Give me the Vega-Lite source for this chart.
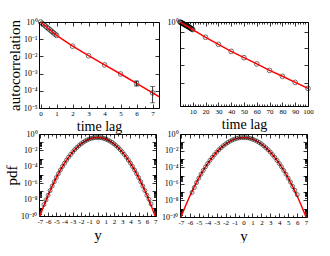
{
  "$schema": "https://vega.github.io/schema/vega-lite/v6.json",
  "background": "white",
  "padding": {"left": 4, "top": 18, "right": 0, "bottom": 0},
  "bounds": "flush",
  "columns": 2,
  "spacing": {"row": 26, "column": 21},
  "datasets": {
    "tl_pts": [{"x":0,"y":1},{"x":0.1,"y":0.835},{"x":0.2,"y":0.698},{"x":0.3,"y":0.583},{"x":0.4,"y":0.487},{"x":0.5,"y":0.407},{"x":0.6,"y":0.34},{"x":0.7,"y":0.284},{"x":0.8,"y":0.237},{"x":0.9,"y":0.198},{"x":1,"y":0.166},{"x":2,"y":0.039},{"x":3,"y":0.011},{"x":4,"y":0.0032},{"x":5,"y":0.00095},{"x":6,"y":0.00027},{"x":7,"y":0.000076}],
    "tl_line": [{"x":0,"y":1},{"x":0.5,"y":0.407},{"x":1,"y":0.166},{"x":2,"y":0.039},{"x":3,"y":0.011},{"x":4,"y":0.0032},{"x":5,"y":0.00095},{"x":6,"y":0.00027},{"x":7,"y":0.000076},{"x":7.5,"y":0.000041}],
    "tl_err": [{"x":6,"lo":0.00019,"hi":0.00037},{"x":7,"lo":0.00002,"hi":0.000175}],
    "tr_pts": [{"x":0,"y":1},{"x":0.5,"y":0.95},{"x":1,"y":0.91},{"x":1.5,"y":0.87},{"x":2,"y":0.83},{"x":2.5,"y":0.79},{"x":3,"y":0.75},{"x":3.5,"y":0.72},{"x":4,"y":0.68},{"x":4.5,"y":0.65},{"x":5,"y":0.62},{"x":5.5,"y":0.59},{"x":6,"y":0.56},{"x":6.5,"y":0.53},{"x":7,"y":0.5},{"x":7.5,"y":0.48},{"x":8,"y":0.45},{"x":8.5,"y":0.43},{"x":9,"y":0.4},{"x":9.5,"y":0.38},{"x":10,"y":0.36},{"x":20,"y":0.128},{"x":30,"y":0.05},{"x":40,"y":0.0195},{"x":50,"y":0.0083},{"x":60,"y":0.0036},{"x":70,"y":0.0015},{"x":80,"y":0.00068},{"x":90,"y":0.0003},{"x":100,"y":0.000135}],
    "tr_line": [{"x":0,"y":1},{"x":10,"y":0.36},{"x":20,"y":0.128},{"x":30,"y":0.05},{"x":40,"y":0.0195},{"x":50,"y":0.0083},{"x":60,"y":0.0036},{"x":70,"y":0.0015},{"x":80,"y":0.00068},{"x":90,"y":0.0003},{"x":100,"y":0.000135}],
    "b_line": [{"x":-7.2,"y":2.62e-11},{"x":-7,"y":9.46e-11},{"x":-6.5,"y":1.99e-9},{"x":-6,"y":3.34e-8},{"x":-5.5,"y":4.48e-7},{"x":-5,"y":4.79e-6},{"x":-4.5,"y":4.08e-5},{"x":-4,"y":2.78e-4},{"x":-3.5,"y":1.51e-3},{"x":-3,"y":6.55e-3},{"x":-2.5,"y":0.0226},{"x":-2,"y":0.0625},{"x":-1.5,"y":0.138},{"x":-1,"y":0.242},{"x":-0.5,"y":0.34},{"x":0,"y":0.38},{"x":0.5,"y":0.34},{"x":1,"y":0.242},{"x":1.5,"y":0.138},{"x":2,"y":0.0625},{"x":2.5,"y":0.0226},{"x":3,"y":6.55e-3},{"x":3.5,"y":1.51e-3},{"x":4,"y":2.78e-4},{"x":4.5,"y":4.08e-5},{"x":5,"y":4.79e-6},{"x":5.5,"y":4.48e-7},{"x":6,"y":3.34e-8},{"x":6.5,"y":1.99e-9},{"x":7,"y":9.46e-11},{"x":7.2,"y":2.62e-11}],
    "bl_pts": [{"x":-6.5,"y":2.5e-9},{"x":-6.25,"y":9e-9},{"x":-6,"y":3.34e-8},{"x":-5.75,"y":1.26e-7},{"x":-5.5,"y":4.48e-7},{"x":-5.25,"y":1.51e-6},{"x":-5,"y":4.79e-6},{"x":-4.75,"y":1.44e-5},{"x":-4.5,"y":4.08e-5},{"x":-4.25,"y":1.1e-4},{"x":-4,"y":2.78e-4},{"x":-3.75,"y":6.67e-4},{"x":-3.5,"y":1.51e-3},{"x":-3.25,"y":3.23e-3},{"x":-3,"y":6.55e-3},{"x":-2.75,"y":0.01253},{"x":-2.5,"y":0.0226},{"x":-2.25,"y":0.0387},{"x":-2,"y":0.0625},{"x":-1.75,"y":0.0955},{"x":-1.5,"y":0.138},{"x":-1.25,"y":0.188},{"x":-1,"y":0.242},{"x":-0.75,"y":0.295},{"x":-0.5,"y":0.34},{"x":-0.25,"y":0.37},{"x":0,"y":0.38},{"x":0.25,"y":0.37},{"x":0.5,"y":0.34},{"x":0.75,"y":0.295},{"x":1,"y":0.242},{"x":1.25,"y":0.188},{"x":1.5,"y":0.138},{"x":1.75,"y":0.0955},{"x":2,"y":0.0625},{"x":2.25,"y":0.0387},{"x":2.5,"y":0.0226},{"x":2.75,"y":0.01253},{"x":3,"y":6.55e-3},{"x":3.25,"y":3.23e-3},{"x":3.5,"y":1.51e-3},{"x":3.75,"y":6.67e-4},{"x":4,"y":2.78e-4},{"x":4.25,"y":1.1e-4},{"x":4.5,"y":4.08e-5},{"x":4.75,"y":1.44e-5},{"x":5,"y":4.79e-6},{"x":5.25,"y":1.51e-6},{"x":5.5,"y":4.48e-7},{"x":5.75,"y":1.26e-7},{"x":6,"y":3.34e-8},{"x":6.25,"y":1.1e-8},{"x":6.5,"y":3e-9}],
    "br_pts": [{"x":-5.75,"y":9e-8},{"x":-5.5,"y":3.5e-7},{"x":-5.25,"y":1.4e-6},{"x":-5,"y":4.79e-6},{"x":-4.75,"y":1.44e-5},{"x":-4.5,"y":4.08e-5},{"x":-4.25,"y":1.1e-4},{"x":-4,"y":2.78e-4},{"x":-3.75,"y":6.67e-4},{"x":-3.5,"y":1.51e-3},{"x":-3.25,"y":3.23e-3},{"x":-3,"y":6.55e-3},{"x":-2.75,"y":0.01253},{"x":-2.5,"y":0.0226},{"x":-2.25,"y":0.0387},{"x":-2,"y":0.0625},{"x":-1.75,"y":0.0955},{"x":-1.5,"y":0.138},{"x":-1.25,"y":0.188},{"x":-1,"y":0.242},{"x":-0.75,"y":0.295},{"x":-0.5,"y":0.34},{"x":-0.25,"y":0.37},{"x":0,"y":0.38},{"x":0.25,"y":0.37},{"x":0.5,"y":0.34},{"x":0.75,"y":0.295},{"x":1,"y":0.242},{"x":1.25,"y":0.188},{"x":1.5,"y":0.138},{"x":1.75,"y":0.0955},{"x":2,"y":0.0625},{"x":2.25,"y":0.0387},{"x":2.5,"y":0.0226},{"x":2.75,"y":0.01253},{"x":3,"y":6.55e-3},{"x":3.25,"y":3.23e-3},{"x":3.5,"y":1.51e-3},{"x":3.75,"y":6.67e-4},{"x":4,"y":2.78e-4},{"x":4.25,"y":1.1e-4},{"x":4.5,"y":4.08e-5},{"x":4.75,"y":1.44e-5},{"x":5,"y":4.79e-6},{"x":5.25,"y":1.6e-6},{"x":5.5,"y":4.8e-7},{"x":5.75,"y":1.6e-7},{"x":6,"y":5e-8}]
  },
  "concat": [
    {
      "width": 120, "height": 86,
      "layer": [
        {
          "data": {"name": "tl_pts"},
          "mark": {"type": "point", "shape": "circle", "filled": false, "color": "black", "size": 22, "strokeWidth": 0.8, "clip": false},
          "encoding": {
            "x": {"field": "x", "type": "quantitative", "scale": {"domain": [-0.1, 7.4], "nice": false, "zero": false},
              "axis": {"orient": "bottom", "values": [0,0.5,1,1.5,2,2.5,3,3.5,4,4.5,5,5.5,6,6.5,7], "labelExpr": "datum.value % 1 == 0 ? datum.value : ''", "tickSize": {"condition": {"test": "datum.value % 1 == 0", "value": -4}, "value": -2}, "title": "time lag", "titleFontSize": 14}},
            "y": {"field": "y", "type": "quantitative", "scale": {"type": "log", "domain": [0.00001, 1], "nice": false},
              "axis": {"orient": "left", "values": [1,0.1,0.01,0.001,0.0001,0.00001], "labelExpr": "'10' + (datum.value >= 1 ? '⁰' : '⁻' + ['⁰','¹','²','³','⁴','⁵','⁶','⁷','⁸','⁹','¹⁰'][round(-log(datum.value)/LN10)])", "title": "autocorrelation"}}
          }
        },
        {
          "data": {"name": "tl_line"},
          "mark": {"type": "line", "color": "#ff0000", "strokeWidth": 1.5, "clip": true},
          "encoding": {
            "x": {"field": "x", "type": "quantitative", "scale": {"domain": [-0.1, 7.4], "nice": false, "zero": false},
              "axis": {"orient": "top", "values": [0,0.5,1,1.5,2,2.5,3,3.5,4,4.5,5,5.5,6,6.5,7], "labels": false, "tickSize": {"condition": {"test": "datum.value % 1 == 0", "value": -4}, "value": -2}, "title": null}},
            "y": {"field": "y", "type": "quantitative", "scale": {"type": "log", "domain": [0.00001, 1], "nice": false},
              "axis": {"orient": "right", "values": [1,0.1,0.01,0.001,0.0001,0.00001], "labels": false, "title": null}}
          }
        },
        {
          "data": {"name": "tl_err"},
          "mark": {"type": "rule", "color": "black", "strokeWidth": 0.8},
          "encoding": {
            "x": {"field": "x", "type": "quantitative", "axis": null},
            "y": {"field": "lo", "type": "quantitative", "axis": null},
            "y2": {"field": "hi"}
          }
        },
        {
          "data": {"name": "tl_err"},
          "mark": {"type": "tick", "orient": "horizontal", "color": "black", "size": 5, "thickness": 0.8},
          "encoding": {
            "x": {"field": "x", "type": "quantitative", "axis": null},
            "y": {"field": "lo", "type": "quantitative", "axis": null}
          }
        },
        {
          "data": {"name": "tl_err"},
          "mark": {"type": "tick", "orient": "horizontal", "color": "black", "size": 5, "thickness": 0.8},
          "encoding": {
            "x": {"field": "x", "type": "quantitative", "axis": null},
            "y": {"field": "hi", "type": "quantitative", "axis": null}
          }
        }
      ],
      "resolve": {"axis": {"x": "independent", "y": "independent"}}
    },
    {
      "width": 128, "height": 84,
      "layer": [
        {
          "data": {"name": "tr_pts"},
          "mark": {"type": "point", "shape": "circle", "filled": false, "color": "black", "size": 22, "strokeWidth": 0.8, "clip": false},
          "encoding": {
            "x": {"field": "x", "type": "quantitative", "scale": {"domain": [0, 100], "nice": false, "zero": false},
              "axis": {"orient": "bottom", "values": [0,2,4,6,8,10,12,14,16,18,20,22,24,26,28,30,32,34,36,38,40,42,44,46,48,50,52,54,56,58,60,62,64,66,68,70,72,74,76,78,80,82,84,86,88,90,92,94,96,98,100], "labelExpr": "datum.value % 10 == 0 && datum.value > 0 ? datum.value : ''", "tickSize": {"condition": {"test": "datum.value % 10 == 0", "value": -4}, "value": -2}, "title": "time lag", "titleFontSize": 14}},
            "y": {"field": "y", "type": "quantitative", "scale": {"type": "log", "domain": [0.0000126, 1], "nice": false},
              "axis": {"orient": "left", "values": [1,0.26,0.03,0.0031,0.00027], "labelExpr": "datum.value >= 1 ? '10⁰' : ''", "title": null}}
          }
        },
        {
          "data": {"name": "tr_line"},
          "mark": {"type": "line", "color": "#ff0000", "strokeWidth": 1.5, "clip": true},
          "encoding": {
            "x": {"field": "x", "type": "quantitative", "scale": {"domain": [0, 100], "nice": false, "zero": false},
              "axis": {"orient": "top", "values": [0,2,4,6,8,10,12,14,16,18,20,22,24,26,28,30,32,34,36,38,40,42,44,46,48,50,52,54,56,58,60,62,64,66,68,70,72,74,76,78,80,82,84,86,88,90,92,94,96,98,100], "labels": false, "tickSize": {"condition": {"test": "datum.value % 10 == 0", "value": -4}, "value": -2}, "title": null}},
            "y": {"field": "y", "type": "quantitative", "scale": {"type": "log", "domain": [0.0000126, 1], "nice": false},
              "axis": {"orient": "right", "values": [1,0.26,0.03,0.0031,0.00027], "labels": false, "title": null}}
          }
        }
      ],
      "resolve": {"axis": {"x": "independent", "y": "independent"}}
    },
    {
      "width": 117, "height": 82,
      "layer": [
        {
          "data": {"name": "b_line"},
          "mark": {"type": "line", "color": "#ff0000", "strokeWidth": 1.5, "clip": true},
          "encoding": {
            "x": {"field": "x", "type": "quantitative", "scale": {"domain": [-7.1, 7.1], "nice": false, "zero": false},
              "axis": {"orient": "bottom", "values": [-7,-6.5,-6,-5.5,-5,-4.5,-4,-3.5,-3,-2.5,-2,-1.5,-1,-0.5,0,0.5,1,1.5,2,2.5,3,3.5,4,4.5,5,5.5,6,6.5,7], "labelExpr": "datum.value % 1 == 0 ? datum.value : ''", "tickSize": {"condition": {"test": "datum.value % 1 == 0", "value": -4}, "value": -2}, "title": "y"}},
            "y": {"field": "y", "type": "quantitative", "scale": {"type": "log", "domain": [1e-10, 1], "nice": false},
              "axis": {"orient": "left", "values": [1,0.1,0.01,0.001,0.0001,0.00001,0.000001,1e-7,1e-8,1e-9,1e-10,0.02,0.03,0.04,0.05,0.06,0.07,0.08,0.09,0.0002,0.0003,0.0004,0.0005,0.0006,0.0007,0.0008,0.0009,0.000002,0.000003,0.000004,0.000005,0.000006,0.000007,0.000008,0.000009,2e-8,3e-8,4e-8,5e-8,6e-8,7e-8,8e-8,9e-8,2e-10,3e-10,4e-10,5e-10,6e-10,7e-10,8e-10,9e-10], "labelExpr": "abs(log(datum.value)/LN10 - round(log(datum.value)/LN10)) > 0.001 || round(log(datum.value)/LN10) % 2 != 0 ? '' : '10' + (datum.value >= 1 ? '⁰' : '⁻' + ['⁰','¹','²','³','⁴','⁵','⁶','⁷','⁸','⁹','¹⁰'][round(-log(datum.value)/LN10)])", "tickSize": {"condition": {"test": "abs(log(datum.value)/LN10 - round(log(datum.value)/LN10)) < 0.001", "value": -4}, "value": -2.5}, "title": "pdf"}}
          }
        },
        {
          "data": {"name": "bl_pts"},
          "mark": {"type": "point", "shape": "circle", "filled": false, "color": "black", "size": 16, "strokeWidth": 0.8, "clip": true},
          "encoding": {
            "x": {"field": "x", "type": "quantitative", "scale": {"domain": [-7.1, 7.1], "nice": false, "zero": false},
              "axis": {"orient": "top", "values": [-7,-6.5,-6,-5.5,-5,-4.5,-4,-3.5,-3,-2.5,-2,-1.5,-1,-0.5,0,0.5,1,1.5,2,2.5,3,3.5,4,4.5,5,5.5,6,6.5,7], "labels": false, "tickSize": {"condition": {"test": "datum.value % 1 == 0", "value": -4}, "value": -2}, "title": null}},
            "y": {"field": "y", "type": "quantitative", "scale": {"type": "log", "domain": [1e-10, 1], "nice": false},
              "axis": {"orient": "right", "values": [1,0.1,0.01,0.001,0.0001,0.00001,0.000001,1e-7,1e-8,1e-9,1e-10,0.02,0.03,0.04,0.05,0.06,0.07,0.08,0.09,0.0002,0.0003,0.0004,0.0005,0.0006,0.0007,0.0008,0.0009,0.000002,0.000003,0.000004,0.000005,0.000006,0.000007,0.000008,0.000009,2e-8,3e-8,4e-8,5e-8,6e-8,7e-8,8e-8,9e-8,2e-10,3e-10,4e-10,5e-10,6e-10,7e-10,8e-10,9e-10], "labels": false, "tickSize": {"condition": {"test": "abs(log(datum.value)/LN10 - round(log(datum.value)/LN10)) < 0.001", "value": -4}, "value": -2.5}, "title": null}}
          }
        }
      ],
      "resolve": {"axis": {"x": "independent", "y": "independent"}}
    },
    {
      "width": 127, "height": 83,
      "layer": [
        {
          "data": {"name": "b_line"},
          "mark": {"type": "line", "color": "#ff0000", "strokeWidth": 1.5, "clip": true},
          "encoding": {
            "x": {"field": "x", "type": "quantitative", "scale": {"domain": [-7.1, 7.1], "nice": false, "zero": false},
              "axis": {"orient": "bottom", "values": [-7,-6.5,-6,-5.5,-5,-4.5,-4,-3.5,-3,-2.5,-2,-1.5,-1,-0.5,0,0.5,1,1.5,2,2.5,3,3.5,4,4.5,5,5.5,6,6.5,7], "labelExpr": "datum.value % 1 == 0 ? datum.value : ''", "tickSize": {"condition": {"test": "datum.value % 1 == 0", "value": -4}, "value": -2}, "title": "y"}},
            "y": {"field": "y", "type": "quantitative", "scale": {"type": "log", "domain": [1e-10, 1], "nice": false},
              "axis": {"orient": "left", "values": [1,0.1,0.01,0.001,0.0001,0.00001,0.000001,1e-7,1e-8,1e-9,1e-10,0.02,0.03,0.04,0.05,0.06,0.07,0.08,0.09,0.0002,0.0003,0.0004,0.0005,0.0006,0.0007,0.0008,0.0009,0.000002,0.000003,0.000004,0.000005,0.000006,0.000007,0.000008,0.000009,2e-8,3e-8,4e-8,5e-8,6e-8,7e-8,8e-8,9e-8,2e-10,3e-10,4e-10,5e-10,6e-10,7e-10,8e-10,9e-10], "labelExpr": "abs(log(datum.value)/LN10 - round(log(datum.value)/LN10)) > 0.001 || round(log(datum.value)/LN10) % 2 != 0 ? '' : '10' + (datum.value >= 1 ? '⁰' : '⁻' + ['⁰','¹','²','³','⁴','⁵','⁶','⁷','⁸','⁹','¹⁰'][round(-log(datum.value)/LN10)])", "tickSize": {"condition": {"test": "abs(log(datum.value)/LN10 - round(log(datum.value)/LN10)) < 0.001", "value": -4}, "value": -2.5}, "title": null}}
          }
        },
        {
          "data": {"name": "br_pts"},
          "mark": {"type": "point", "shape": "circle", "filled": false, "color": "black", "size": 16, "strokeWidth": 0.8, "clip": true},
          "encoding": {
            "x": {"field": "x", "type": "quantitative", "scale": {"domain": [-7.1, 7.1], "nice": false, "zero": false},
              "axis": {"orient": "top", "values": [-7,-6.5,-6,-5.5,-5,-4.5,-4,-3.5,-3,-2.5,-2,-1.5,-1,-0.5,0,0.5,1,1.5,2,2.5,3,3.5,4,4.5,5,5.5,6,6.5,7], "labels": false, "tickSize": {"condition": {"test": "datum.value % 1 == 0", "value": -4}, "value": -2}, "title": null}},
            "y": {"field": "y", "type": "quantitative", "scale": {"type": "log", "domain": [1e-10, 1], "nice": false},
              "axis": {"orient": "right", "values": [1,0.1,0.01,0.001,0.0001,0.00001,0.000001,1e-7,1e-8,1e-9,1e-10,0.02,0.03,0.04,0.05,0.06,0.07,0.08,0.09,0.0002,0.0003,0.0004,0.0005,0.0006,0.0007,0.0008,0.0009,0.000002,0.000003,0.000004,0.000005,0.000006,0.000007,0.000008,0.000009,2e-8,3e-8,4e-8,5e-8,6e-8,7e-8,8e-8,9e-8,2e-10,3e-10,4e-10,5e-10,6e-10,7e-10,8e-10,9e-10], "labels": false, "tickSize": {"condition": {"test": "abs(log(datum.value)/LN10 - round(log(datum.value)/LN10)) < 0.001", "value": -4}, "value": -2.5}, "title": null}}
          }
        }
      ],
      "resolve": {"axis": {"x": "independent", "y": "independent"}}
    }
  ],
  "config": {
    "view": {"stroke": null},
    "axis": {
      "grid": false,
      "domainColor": "black",
      "domainWidth": 1,
      "tickColor": "black",
      "tickWidth": 0.8,
      "tickSize": -4,
      "labelColor": "black",
      "labelFont": "Liberation Serif",
      "labelFontSize": 8,
      "labelPadding": 6,
      "labelOverlap": false,
      "labelFlush": false,
      "titleFont": "Liberation Serif",
      "titleFontWeight": "normal",
      "titleFontSize": 15,
      "titleColor": "black",
      "titlePadding": 1
    },
    "axisX": {
      "labelPadding": 5,
      "labelFontSize": 7,
      "titlePadding": 1
    }
  }
}
